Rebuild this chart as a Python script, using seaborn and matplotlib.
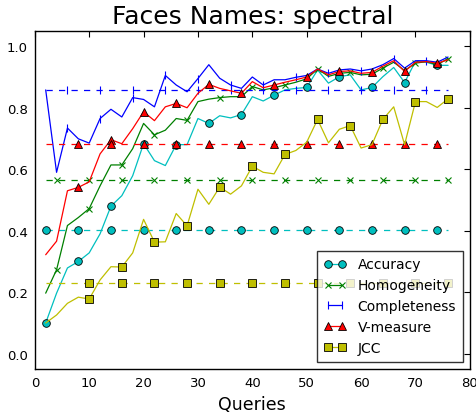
import matplotlib
matplotlib.use("Agg")
import matplotlib.pyplot as plt
import seaborn as sns
import pandas as pd

queries = list(range(2, 78, 2))

accuracy = [0.10, 0.197, 0.279, 0.30, 0.328, 0.39, 0.48, 0.514, 0.579, 0.683,
            0.628, 0.612, 0.68, 0.68, 0.765, 0.749, 0.774, 0.767, 0.778, 0.836,
            0.822, 0.841, 0.858, 0.863, 0.866, 0.923, 0.88, 0.901, 0.907, 0.858,
            0.866, 0.901, 0.931, 0.882, 0.951, 0.948, 0.938, 0.938]
homogeneity = [0.197, 0.273, 0.417, 0.443, 0.472, 0.546, 0.614, 0.614, 0.667, 0.749,
               0.712, 0.727, 0.765, 0.759, 0.82, 0.828, 0.833, 0.836, 0.836, 0.869,
               0.858, 0.865, 0.874, 0.883, 0.894, 0.926, 0.902, 0.912, 0.915, 0.907,
               0.909, 0.929, 0.948, 0.921, 0.945, 0.95, 0.94, 0.96]
completeness = [0.858, 0.59, 0.734, 0.699, 0.685, 0.765, 0.795, 0.77, 0.833, 0.827,
                0.803, 0.905, 0.874, 0.852, 0.895, 0.94, 0.896, 0.874, 0.863, 0.90,
                0.874, 0.891, 0.891, 0.899, 0.905, 0.926, 0.912, 0.923, 0.926, 0.92,
                0.926, 0.94, 0.96, 0.929, 0.953, 0.953, 0.948, 0.965]
v_measure = [0.322, 0.366, 0.53, 0.541, 0.559, 0.65, 0.696, 0.683, 0.732, 0.787,
             0.758, 0.803, 0.814, 0.80, 0.847, 0.876, 0.863, 0.855, 0.847, 0.885,
             0.865, 0.874, 0.883, 0.891, 0.90, 0.926, 0.907, 0.918, 0.92, 0.912,
             0.915, 0.935, 0.953, 0.918, 0.948, 0.95, 0.945, 0.956]
jcc = [0.10, 0.126, 0.164, 0.184, 0.178, 0.24, 0.283, 0.282, 0.328, 0.437,
       0.363, 0.364, 0.456, 0.416, 0.535, 0.486, 0.542, 0.519, 0.546, 0.61,
       0.59, 0.585, 0.648, 0.661, 0.688, 0.762, 0.686, 0.73, 0.742, 0.669,
       0.68, 0.762, 0.803, 0.68, 0.82, 0.82, 0.801, 0.829]

labels = ["Accuracy", "Homogeneity", "Completeness", "V-measure", "JCC"]
baselines = [0.404, 0.566, 0.857, 0.681, 0.229]

sns.set_style("white")
plt.rcParams["font.family"] = ["DejaVu Sans"]
plt.rcParams["text.color"] = "k"
plt.rcParams["axes.labelcolor"] = "k"

series = [accuracy, homogeneity, completeness, v_measure, jcc]
colors = [(0, 0.75, 0.75), (0, 0.5, 0), (0, 0, 1), (1, 0, 0), (0.75, 0.75, 0)]
markers = ["o", "x", "|", "^", "s"]
msizes = [5.5, 5.0, 6.0, 5.5, 5.5]

fig = plt.figure(figsize=(4.77, 4.14), dpi=100)
ax = fig.add_axes([0.073, 0.106, 0.912, 0.817])

handles = []
for i, (lab, vals, base) in enumerate(zip(labels, series, baselines)):
    col = colors[i]
    mk = markers[i]
    filled = mk in ("o", "^", "s")
    mec = "k" if filled else col
    mew = 0.6 if filled else 0.8
    df = pd.DataFrame({"Queries": queries, "value": vals})
    sns.lineplot(data=df, x="Queries", y="value", ax=ax, color=col, lw=0.9,
                 marker=mk, markersize=msizes[i], markevery=(i, 3),
                 markeredgecolor=mec, markeredgewidth=mew,
                 markerfacecolor=col, label=lab, legend=False)
    handles.append(ax.get_lines()[-1])
    dfb = pd.DataFrame({"Queries": queries, "value": [base] * len(queries)})
    sns.lineplot(data=dfb, x="Queries", y="value", ax=ax, color=col, lw=0.9,
                 marker=mk, markersize=msizes[i],
                 markevery=(i, 3), markeredgecolor=mec,
                 markeredgewidth=mew, markerfacecolor=col, legend=False)
    ax.get_lines()[-1].set_dashes((5, 5))

ax.set_xlim(0, 80)
ax.set_ylim(-0.05, 1.05)
ax.set_xticks(range(0, 81, 10))
ax.set_yticks([0.0, 0.2, 0.4, 0.6, 0.8, 1.0])
ax.set_yticklabels(["0.0", "0.2", "0.4", "0.6", "0.8", "1.0"])
ax.tick_params(direction="in", top=True, right=True, length=4, width=0.8,
               labelsize=9.5, colors="k", pad=5)
for sp in ax.spines.values():
    sp.set_color("k")
    sp.set_linewidth(1.0)
ax.set_xlabel("Queries", fontsize=12.5, color="k")
ax.set_ylabel("")
ax.set_title("Faces Names: spectral", fontsize=18, color="k")

leg = ax.legend(handles=handles, labels=labels, loc="lower right", numpoints=2,
                fontsize=10, frameon=True, fancybox=False, handlelength=1.6,
                borderpad=0.5, labelspacing=0.5)
leg.get_frame().set_edgecolor("k")
leg.get_frame().set_linewidth(1.0)
for t in leg.get_texts():
    t.set_color("k")

fig.savefig("out.png", dpi=100)
